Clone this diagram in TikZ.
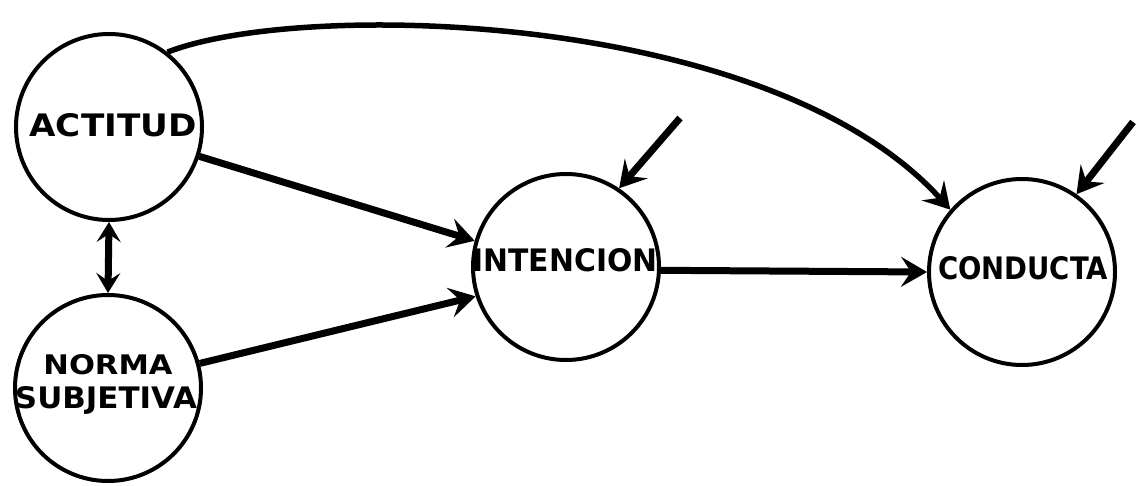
\documentclass[tikz,border=0pt]{standalone}
\usepackage{fontspec}
\usepackage{graphicx}
\setmainfont{DejaVu Sans}
\usetikzlibrary{arrows.meta}
\newcommand{\lbltext}[3]{\resizebox{#1}{#2}{\bfseries #3}}
\begin{document}
\begin{tikzpicture}[x=1pt,y=-1pt,
  state/.style={circle,draw,line width=4pt,minimum size=186pt,inner sep=0pt},
  lbl/.style={inner sep=0pt},
  conn/.style={line width=7pt,-{Stealth[length=26pt,width=30pt,inset=10pt]}},
  curveconn/.style={line width=5.5pt,-{Stealth[length=26pt,width=30pt,inset=10pt]}},
  twoway/.style={line width=7pt,{Stealth[length=20pt,width=24pt,inset=8pt]}-{Stealth[length=20pt,width=24pt,inset=8pt]}},
  ]
\useasboundingbox (0,0) rectangle (1137,486);
\node[state] (act) at (109,127) {};
\node[state] (nor) at (108,388) {};
\node[state] (int) at (566,267) {};
\node[state] (con) at (1022,272) {};
\node[lbl] (lact) at (113,125) {\lbltext{167pt}{23pt}{ACTITUD}};
\node[lbl] (lnor1) at (108,365) {\lbltext{129pt}{20pt}{NORMA}};
\node[lbl] (lnor2) at (106,400) {\lbltext{182pt}{22pt}{SUBJETIVA}};
\node[lbl] (lint) at (565,260) {\lbltext{185pt}{23pt}{INTENCION}};
\node[lbl] (lcon) at (1023,268) {\lbltext{170pt}{23pt}{CONDUCTA}};
\coordinate (e1) at (680,118);
\coordinate (e2) at (1133,122);
\draw[conn] (act.-18) -- (int.164);
\draw[conn] (nor.15) -- (int.198);
\draw[conn] (int.-2) -- (con.180);
\draw[twoway] (act.-90) -- (nor.90);
\draw[conn] (e1) -- (int.56);
\draw[conn] (e2) -- (con.55);
\draw[curveconn] (act.52) .. controls (300,0) and (770,10) .. (con.139);
\end{tikzpicture}
\end{document}
